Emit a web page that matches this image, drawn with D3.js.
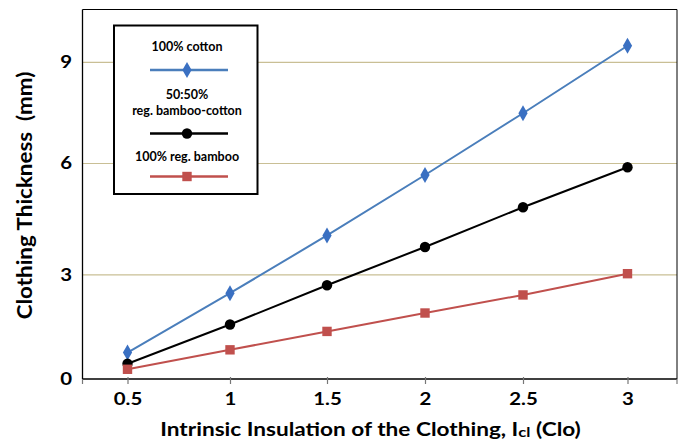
<!DOCTYPE html>
<html><head><meta charset="utf-8">
<script src="https://cdn.jsdelivr.net/npm/d3@7/dist/d3.min.js"></script>
<style>
body{margin:0;background:#fff;}
svg text{font-family:Lato,"Open Sans",sans-serif;font-weight:700;}
</style></head>
<body><svg id="c" width="681" height="442"></svg>
<script>
const xValues = [0.5, 1, 1.5, 2, 2.5, 3];
const cotton = [0.76, 2.47, 4.06, 5.69, 7.49, 9.49];
const blend = [0.44, 1.57, 2.70, 3.75, 4.82, 5.90];
const bamboo = [0.28, 0.84, 1.37, 1.90, 2.42, 3.03];
const yTicks = [0, 3, 6, 9];
const xTickLabels = ["0.5", "1", "1.5", "2", "2.5", "3"];
const seriesNames = ["100% cotton", "50:50%|reg. bamboo-cotton", "100% reg. bamboo"];

const svg = d3.select("#c");
const L = 82.5, R = 677, T = 9.5, B = 379;
// piecewise scales matching the reference's (slightly irregular) spacing
const x = d3.scaleLinear().domain([0.28, 0.5, 1, 1.5, 2, 2.5, 3, 3.245])
  .range([L, 127.5, 230, 327, 425, 523, 627.5, R]);
const y = d3.scaleLinear().domain([0, 3, 6, 9]).range([B, 274.8, 163.5, 62.3]);
const SX = 1.2; // horizontal stretch of the reference's text

// gridlines
svg.append("g").selectAll("line").data(yTicks.filter(d => d > 0)).join("line")
  .attr("x1", L).attr("x2", R).attr("y1", d => y(d)).attr("y2", d => y(d))
  .attr("stroke", "#c9bf95").attr("stroke-width", 1.2);

// frame (top/right)
svg.append("path").attr("d", `M${L},${T}H${R}V${B}`).attr("fill", "none")
  .attr("stroke", "#000").attr("stroke-width", 1);

// x axis
const xAxis = d3.axisBottom(x).tickValues(xValues).tickFormat((d, i) => xTickLabels[i])
  .tickSizeInner(7).tickSizeOuter(0).tickPadding(9);
const gx = svg.append("g").attr("transform", `translate(0,${B - 2})`).call(xAxis);
gx.select(".domain").attr("d", `M${L},2H${R}`).attr("stroke", "#000").attr("stroke-width", 1.3);
gx.selectAll(".tick line").attr("stroke", "#777").attr("stroke-width", 1.2);
gx.selectAll(".tick text").attr("font-size", 17).attr("fill", "#000")
  .attr("font-family", "Lato").attr("font-weight", 700)
  .attr("transform", `scale(${SX},1)`);
// end ticks
svg.append("g").selectAll("line").data([0.28, 3.245]).join("line")
  .attr("x1", d => x(d)).attr("x2", d => x(d)).attr("y1", B).attr("y2", B + 5)
  .attr("stroke", "#777").attr("stroke-width", 1.2);

// y axis
const yAxis = d3.axisLeft(y).tickValues(yTicks).tickFormat(d3.format("d"))
  .tickSize(0).tickPadding(8.75);
const gy = svg.append("g").attr("transform", `translate(${L},0)`).call(yAxis);
gy.select(".domain").attr("d", `M0,${T}V${B}`).attr("stroke", "#000").attr("stroke-width", 1.3);
gy.selectAll(".tick text").attr("font-size", 17).attr("fill", "#000")
  .attr("font-family", "Lato").attr("font-weight", 700)
  .attr("transform", `scale(${SX},1)`);

// axis titles
const xt = svg.append("g").attr("transform", "translate(370.5,436) scale(1.19,1)")
  .append("text").attr("x", 0).attr("y", 0).attr("text-anchor", "middle")
  .attr("font-size", 19).attr("fill", "#000");
xt.append("tspan").text("Intrinsic Insulation of the Clothing, I");
xt.append("tspan").attr("font-size", 14).attr("dy", 1).text("cl");
xt.append("tspan").attr("dy", -1).text(" (Clo)");

svg.append("g").attr("transform", "translate(32,195.5) rotate(-90) scale(1.12,1)")
  .append("text").attr("text-anchor", "middle").attr("font-size", 20).attr("fill", "#000")
  .style("white-space", "pre")
  .text("Clothing Thickness  (mm)");

// series
const series = [
  {vals: cotton, line: "#4a7ebb", fill: "#3a70c2", shape: "diamond"},
  {vals: blend, line: "#000", fill: "#000", shape: "circle"},
  {vals: bamboo, line: "#c0504d", fill: "#c0504d", shape: "square"}
];
const lineGen = d3.line().x((d, i) => x(xValues[i])).y(d => y(d));

function marker(g, shape, color) {
  if (shape === "diamond") g.append("path").attr("d", "M0,-8L4.6,0L0,8L-4.6,0Z").attr("fill", color);
  else if (shape === "circle") g.append("circle").attr("r", 5.2).attr("fill", color);
  else g.append("rect").attr("x", -4.7).attr("y", -4.7).attr("width", 9.4).attr("height", 9.4).attr("fill", color);
}

series.forEach(s => {
  svg.append("path").datum(s.vals).attr("d", lineGen).attr("fill", "none")
    .attr("stroke", s.line).attr("stroke-width", 2);
});
series.forEach(s => {
  s.vals.forEach((v, i) => {
    const g = svg.append("g").attr("transform", `translate(${x(xValues[i])},${y(v)})`);
    marker(g, s.shape, s.fill);
  });
});

// legend
const lg = svg.append("g");
lg.append("rect").attr("x", 114).attr("y", 25.5).attr("width", 143.5).attr("height", 168.5)
  .attr("fill", "#fff").attr("stroke", "#000").attr("stroke-width", 2);
const legendRows = [
  {lines: seriesNames[0].split("|"), ty: [51], ly: 70},
  {lines: seriesNames[1].split("|"), ty: [98.5, 115], ly: 133.5},
  {lines: seriesNames[2].split("|"), ty: [160.5], ly: 176.5}
];
legendRows.forEach((r, k) => {
  r.lines.forEach((t, j) => {
    lg.append("text").attr("x", 187).attr("y", r.ty[j]).attr("text-anchor", "middle")
      .attr("font-size", 12.5).attr("fill", "#000").text(t);
  });
  lg.append("line").attr("x1", 150).attr("x2", 228).attr("y1", r.ly).attr("y2", r.ly)
    .attr("stroke", series[k].line).attr("stroke-width", 2.5);
  const g = lg.append("g").attr("transform", `translate(187,${r.ly})`);
  marker(g, series[k].shape, series[k].fill);
});
</script></body></html>
